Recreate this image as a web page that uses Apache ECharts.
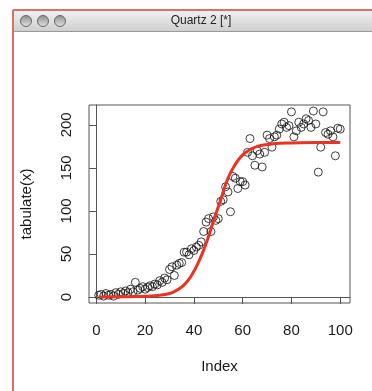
<!DOCTYPE html>
<html>
<head>
<meta charset="utf-8">
<script src="https://cdn.jsdelivr.net/npm/echarts@6/dist/echarts.min.js"></script>
<style>
  html, body { margin: 0; padding: 0; background: #fff; }
  #chart { width: 372px; height: 391px; }
</style>
</head>
<body>
<div id="chart"></div>
<script>
// observed counts, x = 1..100
var counts = [
  2, 3, 1, 4, 2, 3, 1, 5, 3, 6,
  4, 7, 5, 9, 6, 17, 8, 10, 12, 9,
  11, 13, 12, 15, 14, 19, 17, 22, 20, 32,
  35, 25, 37, 39, 40, 52, 52, 49, 56, 54,
  58, 60, 64, 76, 87, 91, 76, 93, 89, 91,
  111, 113, 128, 122, 99, 140, 138, 126, 134, 134,
  130, 168, 184, 164, 153, 170, 166, 151, 168, 188,
  184, 174, 186, 188, 195, 201, 203, 197, 199, 215,
  186, 193, 203, 197, 201, 207, 205, 197, 216, 201,
  145, 174, 215, 191, 189, 193, 186, 164, 196, 195
];

// fitted curve
var fitX = [1, 10, 20, 25, 30, 33, 36, 39, 42, 45, 48, 51, 54, 57, 60, 63, 66, 70, 75, 80, 90, 100];
var fitY = [0, 0.2, 0.8, 1.8, 4, 8, 14, 25, 41, 62, 88, 113, 138, 154, 165, 171, 175, 177, 178.5, 179, 179.5, 179.5];

var xTicks = [0, 20, 40, 60, 80, 100];
var yTicks = [0, 50, 100, 150, 200];

var points = counts.map(function (v, i) { return [i + 1, v]; });
var fit = fitX.map(function (x, i) { return [x, fitY[i]]; });

var chart = echarts.init(document.getElementById("chart"));
var font = "Liberation Sans, Helvetica, Arial, sans-serif";

var option = {
  animation: false,
  backgroundColor: "#fff",
  grid: {
    left: 89, top: 105, right: 22, bottom: 88,
    show: true, borderColor: "#555", borderWidth: 1
  },
  xAxis: {
    type: "value",
    min: -3, max: 104,
    name: "Index",
    nameLocation: "middle",
    nameGap: 56,
    nameTextStyle: { fontFamily: font, fontSize: 15, color: "#1a1a1a" },
    axisLine: { show: true, lineStyle: { color: "#555", width: 1 } },
    axisTick: { show: true, length: 7, customValues: xTicks, lineStyle: { color: "#555" } },
    axisLabel: { customValues: xTicks, margin: 20, fontFamily: font, fontSize: 15, color: "#1a1a1a" },
    splitLine: { show: false }
  },
  yAxis: {
    type: "value",
    min: -7, max: 223,
    name: "tabulate(x)",
    nameLocation: "middle",
    nameGap: 55,
    nameRotate: 90,
    nameTextStyle: { fontFamily: font, fontSize: 15, color: "#1a1a1a" },
    axisLine: { show: true, lineStyle: { color: "#555", width: 1 } },
    axisTick: { show: true, length: 7, customValues: yTicks, lineStyle: { color: "#555" } },
    axisLabel: { customValues: yTicks, rotate: 90, margin: 15, fontFamily: font, fontSize: 15, color: "#1a1a1a" },
    splitLine: { show: false }
  },
  series: [
    {
      type: "scatter",
      data: points,
      symbol: "circle",
      symbolSize: 8,
      itemStyle: { color: "rgba(0,0,0,0)", borderColor: "#111", borderWidth: 1 },
      z: 2
    },
    {
      type: "line",
      data: fit,
      smooth: true,
      showSymbol: false,
      lineStyle: { color: "#ea3323", width: 3 },
      z: 3
    }
  ],
  graphic: [
    { type: "rect", shape: { x: 13, y: 10, width: 360, height: 21 },
      style: { fill: new echarts.graphic.LinearGradient(0, 0, 0, 1, [
        { offset: 0, color: "#f2f2f2" }, { offset: 1, color: "#cfcfcf" }]) } },
    { type: "line", shape: { x1: 13, y1: 31.5, x2: 372, y2: 31.5 }, style: { stroke: "#9a9a9a", lineWidth: 1 } },
    { type: "line", shape: { x1: 13, y1: 10, x2: 372, y2: 10 }, style: { stroke: "#d9706a", lineWidth: 2 } },
    { type: "line", shape: { x1: 13, y1: 10, x2: 13, y2: 391 }, style: { stroke: "#d9706a", lineWidth: 2 } },
    { type: "circle", shape: { cx: 26, cy: 21, r: 5.5 },
      style: { fill: new echarts.graphic.LinearGradient(0, 0, 0, 1, [
        { offset: 0, color: "#8a8a8a" }, { offset: 1, color: "#e6e6e6" }]), stroke: "#666", lineWidth: 1 } },
    { type: "circle", shape: { cx: 43, cy: 21, r: 5.5 },
      style: { fill: new echarts.graphic.LinearGradient(0, 0, 0, 1, [
        { offset: 0, color: "#8a8a8a" }, { offset: 1, color: "#e6e6e6" }]), stroke: "#666", lineWidth: 1 } },
    { type: "circle", shape: { cx: 60, cy: 21, r: 5.5 },
      style: { fill: new echarts.graphic.LinearGradient(0, 0, 0, 1, [
        { offset: 0, color: "#8a8a8a" }, { offset: 1, color: "#e6e6e6" }]), stroke: "#666", lineWidth: 1 } },
    { type: "text", x: 201, y: 21,
      style: { text: "Quartz 2 [*]", fill: "#222", font: "12px " + font, align: "center", verticalAlign: "middle" } }
  ]
};

chart.setOption(option);
</script>
</body>
</html>
